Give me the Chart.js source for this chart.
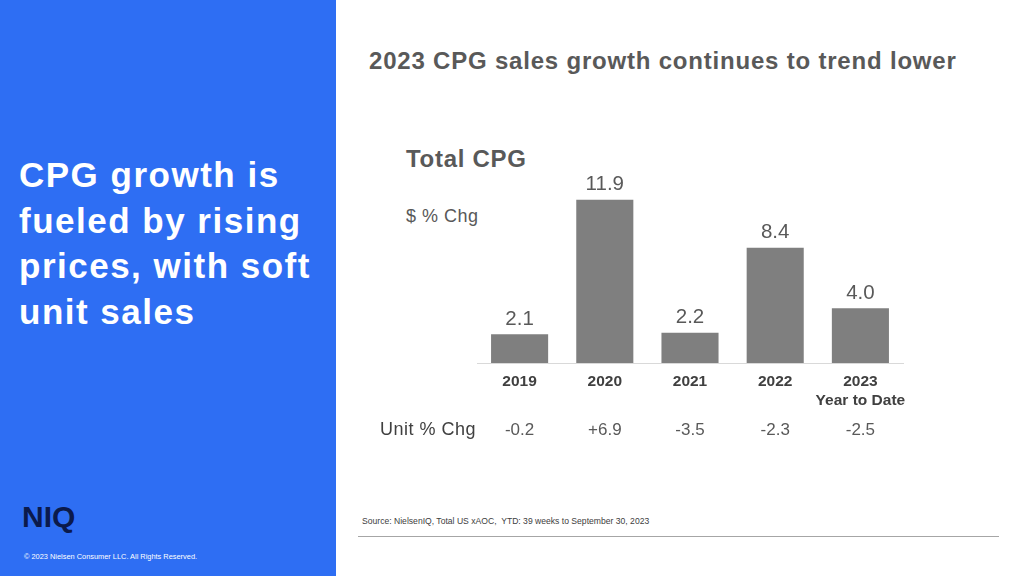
<!DOCTYPE html>
<html>
<head>
<meta charset="utf-8">
<script src="https://cdn.jsdelivr.net/npm/chart.js@4.4.0/dist/chart.umd.min.js"></script>
<style>
  html, body { margin: 0; padding: 0; }
  body { width: 1024px; height: 576px; position: relative; overflow: hidden; background: #fff;
         font-family: "Liberation Sans", Arial, sans-serif; }
  .panel { position: absolute; left: 0; top: 0; width: 336px; height: 576px; background: #2e6ef3; }
  .headline { position: absolute; left: 19px; top: 152px; color: #fff; font-weight: bold;
              font-size: 35px; letter-spacing: 1.5px; line-height: 45.5px; }
  .logo { position: absolute; left: 22px; top: 500px; color: #0b1a4b; font-weight: bold;
          font-size: 30px; letter-spacing: 0px; }
  .copy { position: absolute; left: 24px; top: 552px; color: #fff; font-size: 7.4px; }
  .title { position: absolute; left: 369px; top: 47px; color: #595959; font-weight: bold; font-size: 24px;
           letter-spacing: 0.8px; }
  .sub { position: absolute; left: 406px; top: 145px; color: #595959; font-weight: bold; font-size: 24px;
         letter-spacing: 0.7px; }
  .unit { position: absolute; left: 406px; top: 206px; color: #595959; font-size: 18px; letter-spacing: 0.5px; }
  .source { position: absolute; left: 362px; top: 516px; color: #404040; font-size: 8.6px; }
  .rule { position: absolute; left: 358px; top: 536px; width: 641px; height: 0; border-top: 1.5px solid #a6a6a6; }
  #wrap { position: absolute; left: 360px; top: 150px; width: 580px; height: 300px; }
</style>
</head>
<body>
<div class="panel"></div>
<div class="headline">CPG growth is<br>fueled by rising<br>prices, with soft<br>unit sales</div>
<div class="logo">NIQ</div>
<div class="copy">© 2023 Nielsen Consumer LLC. All Rights Reserved.</div>
<div class="title">2023 CPG sales growth continues to trend lower</div>
<div class="sub">Total CPG</div>
<div class="unit">$ % Chg</div>
<div class="source">Source: NielsenIQ, Total US xAOC,&nbsp; YTD: 39 weeks to September 30, 2023</div>
<div class="rule"></div>
<div id="wrap"><canvas id="cpgChart"></canvas></div>

<script>
const categories = ['2019', '2020', '2021', '2022', ['2023', 'Year to Date']];
const dollarChg = [2.1, 11.9, 2.2, 8.4, 4.0];
const unitChg = ['-0.2', '+6.9', '-3.5', '-2.3', '-2.5'];

// value labels above bars + the unit % chg row under the axis
const labelsPlugin = {
    id: 'labels',
    afterDatasetsDraw(chart) {
        const ctx = chart.ctx;
        const meta = chart.getDatasetMeta(0);
        ctx.save();
        ctx.fillStyle = '#595959';
        ctx.font = '20.5px "Liberation Sans", Arial, sans-serif';
        ctx.textAlign = 'center';
        ctx.textBaseline = 'bottom';
        meta.data.forEach((bar, i) => {
            ctx.fillText(dollarChg[i].toFixed(1), bar.x, bar.y - 5);
        });

        const rowY = 280;
        ctx.textBaseline = 'middle';
        ctx.font = '17px "Liberation Sans", Arial, sans-serif';
        meta.data.forEach((bar, i) => {
            ctx.fillText(unitChg[i], bar.x, rowY);
        });
        ctx.textAlign = 'left';
        ctx.fillStyle = '#404040';
        ctx.font = '18px "Liberation Sans", Arial, sans-serif';
        ctx.letterSpacing = '0.5px';
        ctx.fillText('Unit % Chg', 20, rowY);
        ctx.restore();
    }
};

new Chart(document.getElementById('cpgChart').getContext('2d'), {
    type: 'bar',
    data: {
        labels: categories,
        datasets: [{
            data: dollarChg,
            backgroundColor: '#7f7f7f',
            borderWidth: 0,
            barPercentage: 0.67,
            categoryPercentage: 1
        }]
    },
    options: {
        responsive: true,
        maintainAspectRatio: false,
        animation: false,
        layout: { padding: { top: 21, left: 117, right: 37, bottom: 0 } },
        plugins: { legend: { display: false }, tooltip: { enabled: false } },
        scales: {
            y: { display: false, min: 0, max: 14 },
            x: {
                grid: { display: false, drawTicks: false },
                border: { display: true, color: '#d9d9d9', width: 1 },
                ticks: {
                    color: '#404040',
                    padding: 9,
                    maxRotation: 0,
                    autoSkip: false,
                    font: { family: '"Liberation Sans", Arial, sans-serif', size: 15.5, weight: 'bold', lineHeight: 1.22 }
                },
                afterFit(axis) { axis.height = 87; }
            }
        }
    },
    plugins: [labelsPlugin]
});
</script>
</body>
</html>
